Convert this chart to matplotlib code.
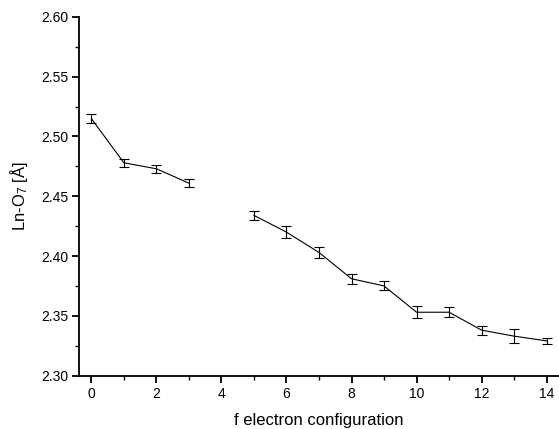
import numpy as np
import matplotlib
matplotlib.use("Agg")
import matplotlib.pyplot as plt
from matplotlib.ticker import MultipleLocator

plt.rcParams['font.family'] = ['Liberation Sans', 'DejaVu Sans']
plt.rcParams['mathtext.default'] = 'regular'

# data (no value for 4 f electrons)
f_config = [0, 1, 2, 3, 4, 5, 6, 7, 8, 9, 10, 11, 12, 13, 14]
ln_o7 = [2.515, 2.478, 2.473, 2.461, np.nan, 2.434, 2.420, 2.403,
         2.381, 2.375, 2.353, 2.353, 2.338, 2.333, 2.329]
ln_o7_err = [0.0036, 0.0035, 0.0035, 0.0035, np.nan, 0.0035, 0.0048, 0.0048,
             0.0040, 0.0038, 0.0050, 0.0042, 0.0038, 0.0058, 0.0028]

fig = plt.figure(figsize=(5.59, 4.29), dpi=100)
ax = fig.add_axes([0.1413, 0.1245, 0.8587, 0.836])

ax.errorbar(f_config, ln_o7, yerr=ln_o7_err, color='black', lw=0.8,
            elinewidth=0.8, capsize=3.5, capthick=0.8)

ax.set_xlim(-0.38, 14.38)
ax.set_ylim(2.30, 2.60)
ax.xaxis.set_major_locator(MultipleLocator(2))
ax.xaxis.set_minor_locator(MultipleLocator(1))
ax.yaxis.set_major_locator(MultipleLocator(0.05))
ax.yaxis.set_minor_locator(MultipleLocator(0.025))
ax.yaxis.set_major_formatter(matplotlib.ticker.FormatStrFormatter('%.2f'))

for s in ['top', 'right']:
    ax.spines[s].set_visible(False)
for s in ['left', 'bottom']:
    ax.spines[s].set_linewidth(1.3)
ax.tick_params(which='major', direction='out', length=5, width=1.3,
               labelsize=10, pad=3)
ax.tick_params(which='minor', direction='out', length=3, width=1.0)

ax.set_xlabel('f electron configuration', fontsize=12, labelpad=9)
ax.set_ylabel('Ln-O$_7$ [Å]', fontsize=12, labelpad=8)

fig.savefig('out.png', dpi=100)
